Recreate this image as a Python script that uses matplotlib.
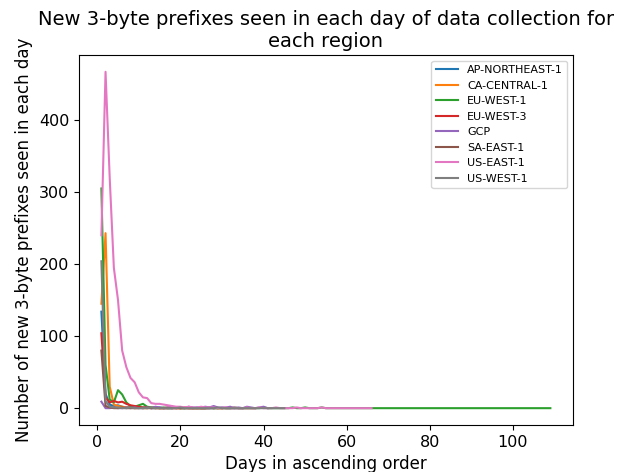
import matplotlib
matplotlib.use("Agg")
import matplotlib.pyplot as plt
import numpy as np

regions = ["AP-NORTHEAST-1", "CA-CENTRAL-1", "EU-WEST-1", "EU-WEST-3",
           "GCP", "SA-EAST-1", "US-EAST-1", "US-WEST-1"]

ap_northeast_1 = [134, 20, 5, 3, 4, 2, 1, 2, 1, 1, 0, 1, 0, 0, 1, 0, 0, 0, 1, 0,
                  0, 0, 0, 1, 0, 0, 0, 0, 0, 1, 0, 0, 0, 0, 0]
ca_central_1 = [145, 243, 30, 5, 3, 2, 1, 1, 0, 1, 0, 0, 1, 0, 0, 0, 0, 1, 0, 0,
                0, 0, 0, 0, 0, 0, 1, 0, 0, 0]
eu_west_1 = [305, 60, 12, 8, 25, 19, 8, 3, 2, 4, 6, 2, 1, 1, 0, 1, 0, 0, 1, 0,
             0, 1, 0, 0, 0, 0, 1, 0, 0, 0, 0, 0, 1, 0, 0, 0, 0, 0, 0, 1,
             0, 0, 0, 0, 0, 0, 1, 0, 0, 1, 0, 0, 0, 1, 0, 0, 0, 0, 0, 0,
             0, 0, 0, 0, 0, 0, 0, 0, 0, 0, 0, 0, 0, 0, 0, 0, 0, 0, 0, 0,
             0, 0, 0, 0, 0, 0, 0, 0, 0, 0, 0, 0, 0, 0, 0, 0, 0, 0, 0, 0,
             0, 0, 0, 0, 0, 0, 0, 0, 0]
eu_west_3 = [104, 15, 8, 10, 8, 9, 6, 4, 3, 2, 1, 1, 0, 1, 0, 0, 1, 0, 0, 0,
             1, 0, 0, 0, 0, 0, 0, 1, 0, 0, 0, 0, 0, 0, 0, 0, 0, 0]
gcp = [9, 0, 0, 1, 0, 0, 1, 0, 1, 0, 0, 1, 0, 2, 1, 0, 1, 2, 0, 1,
       0, 2, 1, 0, 1, 2, 1, 3, 1, 0, 1, 2, 0, 1, 0, 2, 1, 0, 1, 2, 0]
sa_east_1 = [80, 3, 1, 0, 0, 1, 0, 0, 0, 0, 1, 0, 0, 0, 0, 0, 0, 0, 0, 0,
             0, 0, 0, 0, 0, 0, 0, 0]
us_east_1 = [240, 467, 320, 195, 150, 80, 57, 42, 36, 22, 15, 14, 7, 6, 6, 5, 4, 3, 2, 2,
             1, 2, 1, 1, 2, 1, 1, 1, 0, 1, 1, 0, 1, 0, 0, 1, 0, 0, 1, 0,
             0, 0, 1, 0, 0, 0, 0, 1, 0, 0, 0, 0, 0, 1, 0, 0, 0, 0, 0, 0,
             0, 0, 0, 0, 0, 0]
us_west_1 = [204, 10, 2, 1, 1, 0, 0, 1, 0, 0, 0, 0, 1, 0, 0, 0, 0, 0, 0, 1,
             0, 0, 0, 0, 0, 0, 0, 0, 1, 0, 0, 0, 0, 0, 0, 0, 0, 0, 0, 0,
             0, 0, 0, 0, 0]

series = [ap_northeast_1, ca_central_1, eu_west_1, eu_west_3,
          gcp, sa_east_1, us_east_1, us_west_1]

fig = plt.figure(figsize=(6.34, 4.72), dpi=100)
ax = fig.add_axes([0.1245, 0.0996, 0.779, 0.7839])

for name, vals in zip(regions, series):
    days = np.arange(1, len(vals) + 1)
    ax.plot(days, vals, label=name, linewidth=1.5)

ax.set_title("New 3-byte prefixes seen in each day of data collection for\neach region",
             fontsize=14)
ax.set_xlabel("Days in ascending order", fontsize=12)
ax.set_ylabel("Number of new 3-byte prefixes seen in each day", fontsize=12)
ax.tick_params(labelsize=11.5)
ax.legend(fontsize=8, loc="upper right")

fig.savefig("out.png", dpi=100)
